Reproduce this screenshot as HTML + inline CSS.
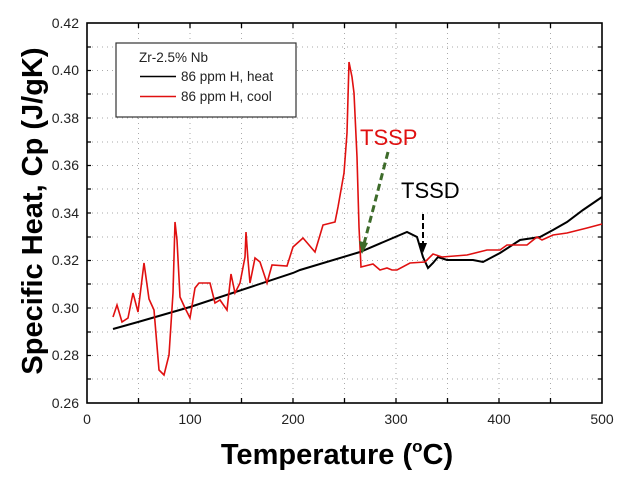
<!DOCTYPE html>
<html><head><meta charset="utf-8"><style>body{margin:0;background:#fff}svg{display:block}</style></head><body>
<svg width="622" height="488" viewBox="0 0 622 488" font-family="Liberation Sans, sans-serif">
<g stroke="#aaa" stroke-width="1" stroke-dasharray="1,4">
<line x1="138.5" y1="23" x2="138.5" y2="403"/><line x1="190" y1="23" x2="190" y2="403"/><line x1="241.5" y1="23" x2="241.5" y2="403"/><line x1="293" y1="23" x2="293" y2="403"/><line x1="344.5" y1="23" x2="344.5" y2="403"/><line x1="396" y1="23" x2="396" y2="403"/><line x1="447.5" y1="23" x2="447.5" y2="403"/><line x1="499" y1="23" x2="499" y2="403"/><line x1="550.5" y1="23" x2="550.5" y2="403"/>
<line x1="87" y1="379" x2="602" y2="379"/><line x1="87" y1="355.5" x2="602" y2="355.5"/><line x1="87" y1="332" x2="602" y2="332"/><line x1="87" y1="308" x2="602" y2="308"/><line x1="87" y1="284" x2="602" y2="284"/><line x1="87" y1="260.5" x2="602" y2="260.5"/><line x1="87" y1="237" x2="602" y2="237"/><line x1="87" y1="213" x2="602" y2="213"/><line x1="87" y1="189" x2="602" y2="189"/><line x1="87" y1="165.5" x2="602" y2="165.5"/><line x1="87" y1="142" x2="602" y2="142"/><line x1="87" y1="118" x2="602" y2="118"/><line x1="87" y1="94" x2="602" y2="94"/><line x1="87" y1="70.5" x2="602" y2="70.5"/><line x1="87" y1="47" x2="602" y2="47"/>
</g>
<g stroke="#000" stroke-width="1.3">
<path d="M138.5,403v-5M190,403v-5M241.5,403v-5M293,403v-5M344.5,403v-5M396,403v-5M447.5,403v-5M499,403v-5M550.5,403v-5M138.5,23v5M190,23v5M241.5,23v5M293,23v5M344.5,23v5M396,23v5M447.5,23v5M499,23v5M550.5,23v5"/>
<path d="M87,379h4M87,355.5h4M87,332h4M87,308h4M87,284h4M87,260.5h4M87,237h4M87,213h4M87,189h4M87,165.5h4M87,142h4M87,118h4M87,94h4M87,70.5h4M87,47h4M602,379h-4M602,355.5h-4M602,332h-4M602,308h-4M602,284h-4M602,260.5h-4M602,237h-4M602,213h-4M602,189h-4M602,165.5h-4M602,142h-4M602,118h-4M602,94h-4M602,70.5h-4M602,47h-4"/>
</g>
<rect x="87" y="23" width="515" height="380" fill="none" stroke="#000" stroke-width="1.6"/>
<g font-size="14" fill="#222" text-anchor="end">
<text x="79" y="408">0.26</text><text x="79" y="360">0.28</text><text x="79" y="313">0.30</text><text x="79" y="265">0.32</text><text x="79" y="218">0.34</text><text x="79" y="170">0.36</text><text x="79" y="123">0.38</text><text x="79" y="75">0.40</text><text x="79" y="28">0.42</text>
</g>
<g font-size="14" fill="#222" text-anchor="middle">
<text x="87" y="424">0</text><text x="190" y="424">100</text><text x="293" y="424">200</text><text x="396" y="424">300</text><text x="499" y="424">400</text><text x="602" y="424">500</text>
</g>
<text x="337" y="464" font-size="29" font-weight="bold" text-anchor="middle">Temperature (<tspan font-size="17" dy="-12">o</tspan><tspan dy="12">C)</tspan></text>
<text transform="translate(42,211) rotate(-90)" font-size="29" font-weight="bold" text-anchor="middle">Specific Heat, Cp (J/gK)</text>
<polyline fill="none" stroke="#000" stroke-width="2" points="113,329 138,322 190,307 293,273 300,270 360,252 407,232 417,237 423,257 428,268 433,263 438,257 447,260 473,260 483,262 500,253 520,240 540,237 553,230 567,222 583,210 602,197"/>
<polyline fill="none" stroke="#e01010" stroke-width="1.6" points="113,317 117,305 122,322 128,318 133,293 138,312 144,263 149,299 154,310 159,370 164,375 169,355 173,293 175,222 177,240 180,297 185,308 190,318 195,288 199,283 210,283 215,303 220,300 227,310 231,274 235,293 240,283 245,257 246,232 248,260 250,283 255,258 260,262 267,283 272,265 287,266 293,247 303,238 315,252 323,225 335,222 338,207 344,173 347,133 349,62 352,77 354,93 357,157 359,227 361,267 373,264 380,270 387,268 392,270 397,270 410,263 425,262 433,254 442,257 467,255 487,250 500,250 507,245 527,245 537,237 542,240 553,235 567,233 587,228 602,224"/>
<line x1="388" y1="152" x2="364" y2="244" stroke="#3d6b2a" stroke-width="3" stroke-dasharray="7,4"/>
<polygon points="362,254 359,241 368,243" fill="#3d6b2a"/>
<text x="360" y="145" font-size="22" fill="#e01010">TSSP</text>
<text x="401" y="198" font-size="22" fill="#000">TSSD</text>
<line x1="423" y1="214" x2="423" y2="244" stroke="#000" stroke-width="2" stroke-dasharray="6,3"/>
<polygon points="423,253 419,243 427,243" fill="#000"/>
<rect x="116" y="43" width="180" height="74" fill="#fff" stroke="#333" stroke-width="1.2"/>
<text x="139" y="62" font-size="13.5" fill="#222">Zr-2.5% Nb</text>
<line x1="140" y1="76.5" x2="176" y2="76.5" stroke="#000" stroke-width="1.6"/>
<text x="181" y="81" font-size="13.5" fill="#222">86 ppm H, heat</text>
<line x1="140" y1="96.5" x2="176" y2="96.5" stroke="#e01010" stroke-width="1.6"/>
<text x="181" y="101" font-size="13.5" fill="#222">86 ppm H, cool</text>
</svg>
</body></html>
